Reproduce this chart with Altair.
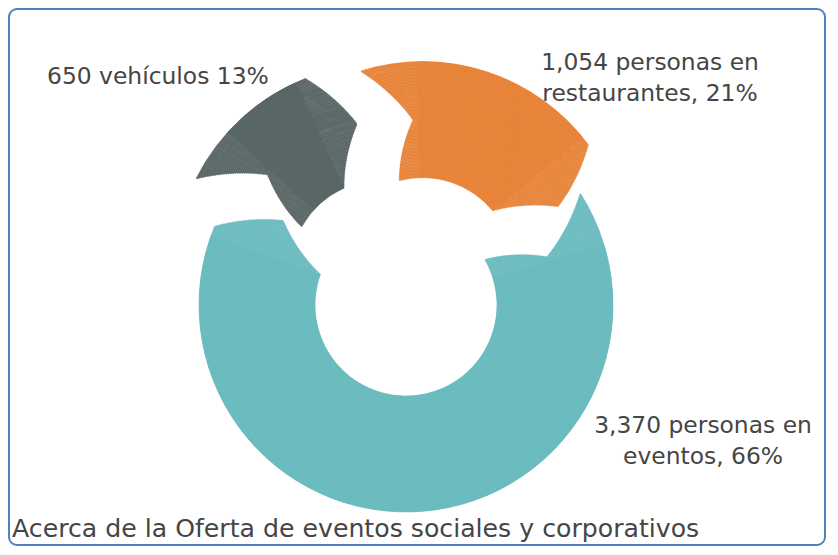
import math
import pandas as pd
import altair as alt

# ---- data ----
categories = ["restaurantes", "eventos", "vehículos"]
values = [1054, 3370, 650]
percents = [21, 66, 13]
label_lines = [
    ["1,054 personas en", "restaurantes, 21%"],
    ["3,370 personas en", "eventos, 66%"],
    ["650 vehículos 13%"],
]
title_text = "Acerca de la Oferta de eventos sociales y corporativos"

# ---- style / layout ----
colors = ["#e8853a", "#6cbcbf", "#5a6767"]
explode_px = [40, 0, 42]
R_OUT, R_IN = 207, 91
START_DEG = -13
TIP_DEG = 13
GAP_PX = 15
N_BANDS = 80
CX, CY = 397, 296
FONT = "DejaVu Sans"
TXT = "#454545"
W, H = 822, 539

total = float(sum(values))
k = total / (2 * math.pi)  # value units per radian
theta_scale = alt.Scale(domain=[0, total],
                        range=[math.radians(START_DEG), math.radians(START_DEG) + 2 * math.pi])
radius_scale = alt.Scale(type="linear", domain=[0, 1], range=[0, R_OUT], zero=True)

# arrow-shaped ring segments: a solid body arc plus thin radial bands for tip/notch
rows = []
base_rows = []
cum = 0.0
rmid = (R_OUT + R_IN) / 2
half = (R_OUT - R_IN) / 2
tipv = math.radians(TIP_DEG) * k
for cat, v in zip(categories, values):
    base_rows.append({"cat": cat,
                      "t0": cum + 0.5 * tipv + (GAP_PX / 2) / R_IN * k,
                      "t1": cum + v - 0.5 * tipv - (GAP_PX / 2) / R_IN * k,
                      "r0": R_IN / R_OUT, "r1": 1.0})
    for i in range(N_BANDS):
        r0 = R_IN + (R_OUT - R_IN) * i / N_BANDS
        r1 = R_IN + (R_OUT - R_IN) * (i + 1) / N_BANDS
        rm = (r0 + r1) / 2
        u = abs(rm - rmid) / half
        shift = tipv * (0.5 - u)
        gapv = (GAP_PX / 2) / rm * k
        rows.append({"cat": cat,
                     "t0": cum + shift + gapv,
                     "t1": cum + v + shift - gapv,
                     "r0": r0 / R_OUT,
                     "r1": r1 / R_OUT})
    cum += v
df = pd.DataFrame(rows)
df_base = pd.DataFrame(base_rows)

layers = []
cum = 0.0
for cat, v, col, ex in zip(categories, values, colors, explode_px):
    mid = math.radians(START_DEG) + (cum + v / 2) / total * 2 * math.pi
    dx = ex * math.sin(mid)
    dy = -ex * math.cos(mid)
    cum += v
    enc = dict(
        theta=alt.Theta("t0:Q", scale=theta_scale),
        theta2="t1:Q",
        radius=alt.Radius("r1:Q", scale=radius_scale),
        radius2="r0:Q",
        x=alt.value(CX + dx),
        y=alt.value(CY + dy),
    )
    layers.append(
        alt.Chart(df_base).transform_filter(alt.datum.cat == cat)
        .mark_arc(color=col).encode(**enc)
    )
    layers.append(
        alt.Chart(df).transform_filter(alt.datum.cat == cat)
        .mark_arc(color=col, stroke=col, strokeWidth=0.6).encode(**enc)
    )

def label(lines, x, y, align, size):
    return alt.Chart(pd.DataFrame({"a": [0]})).mark_text(
        text=lines if len(lines) > 1 else lines[0],
        font=FONT, fontSize=size, color=TXT, align=align,
        baseline="alphabetic", lineHeight=31,
    ).encode(x=alt.value(x), y=alt.value(y))

layers.append(label(label_lines[0], 641, 61, "center", 23.4))
layers.append(label(label_lines[1], 694, 424, "center", 23.4))
layers.append(label(label_lines[2], 38, 75, "left", 23.4))
layers.append(label([title_text], 3, 528, "left", 25.2))

chart = alt.layer(*layers).properties(
    width=W, height=H,
    autosize=alt.AutoSizeParams(type="fit", contains="padding"),
    padding={"left": 1, "top": 1, "right": 5, "bottom": 2},
    background="white",
).configure_view(stroke="#4f81bd", strokeWidth=2, cornerRadius=8)

chart.save("out.html", embed_options={"renderer": "svg", "actions": False})
